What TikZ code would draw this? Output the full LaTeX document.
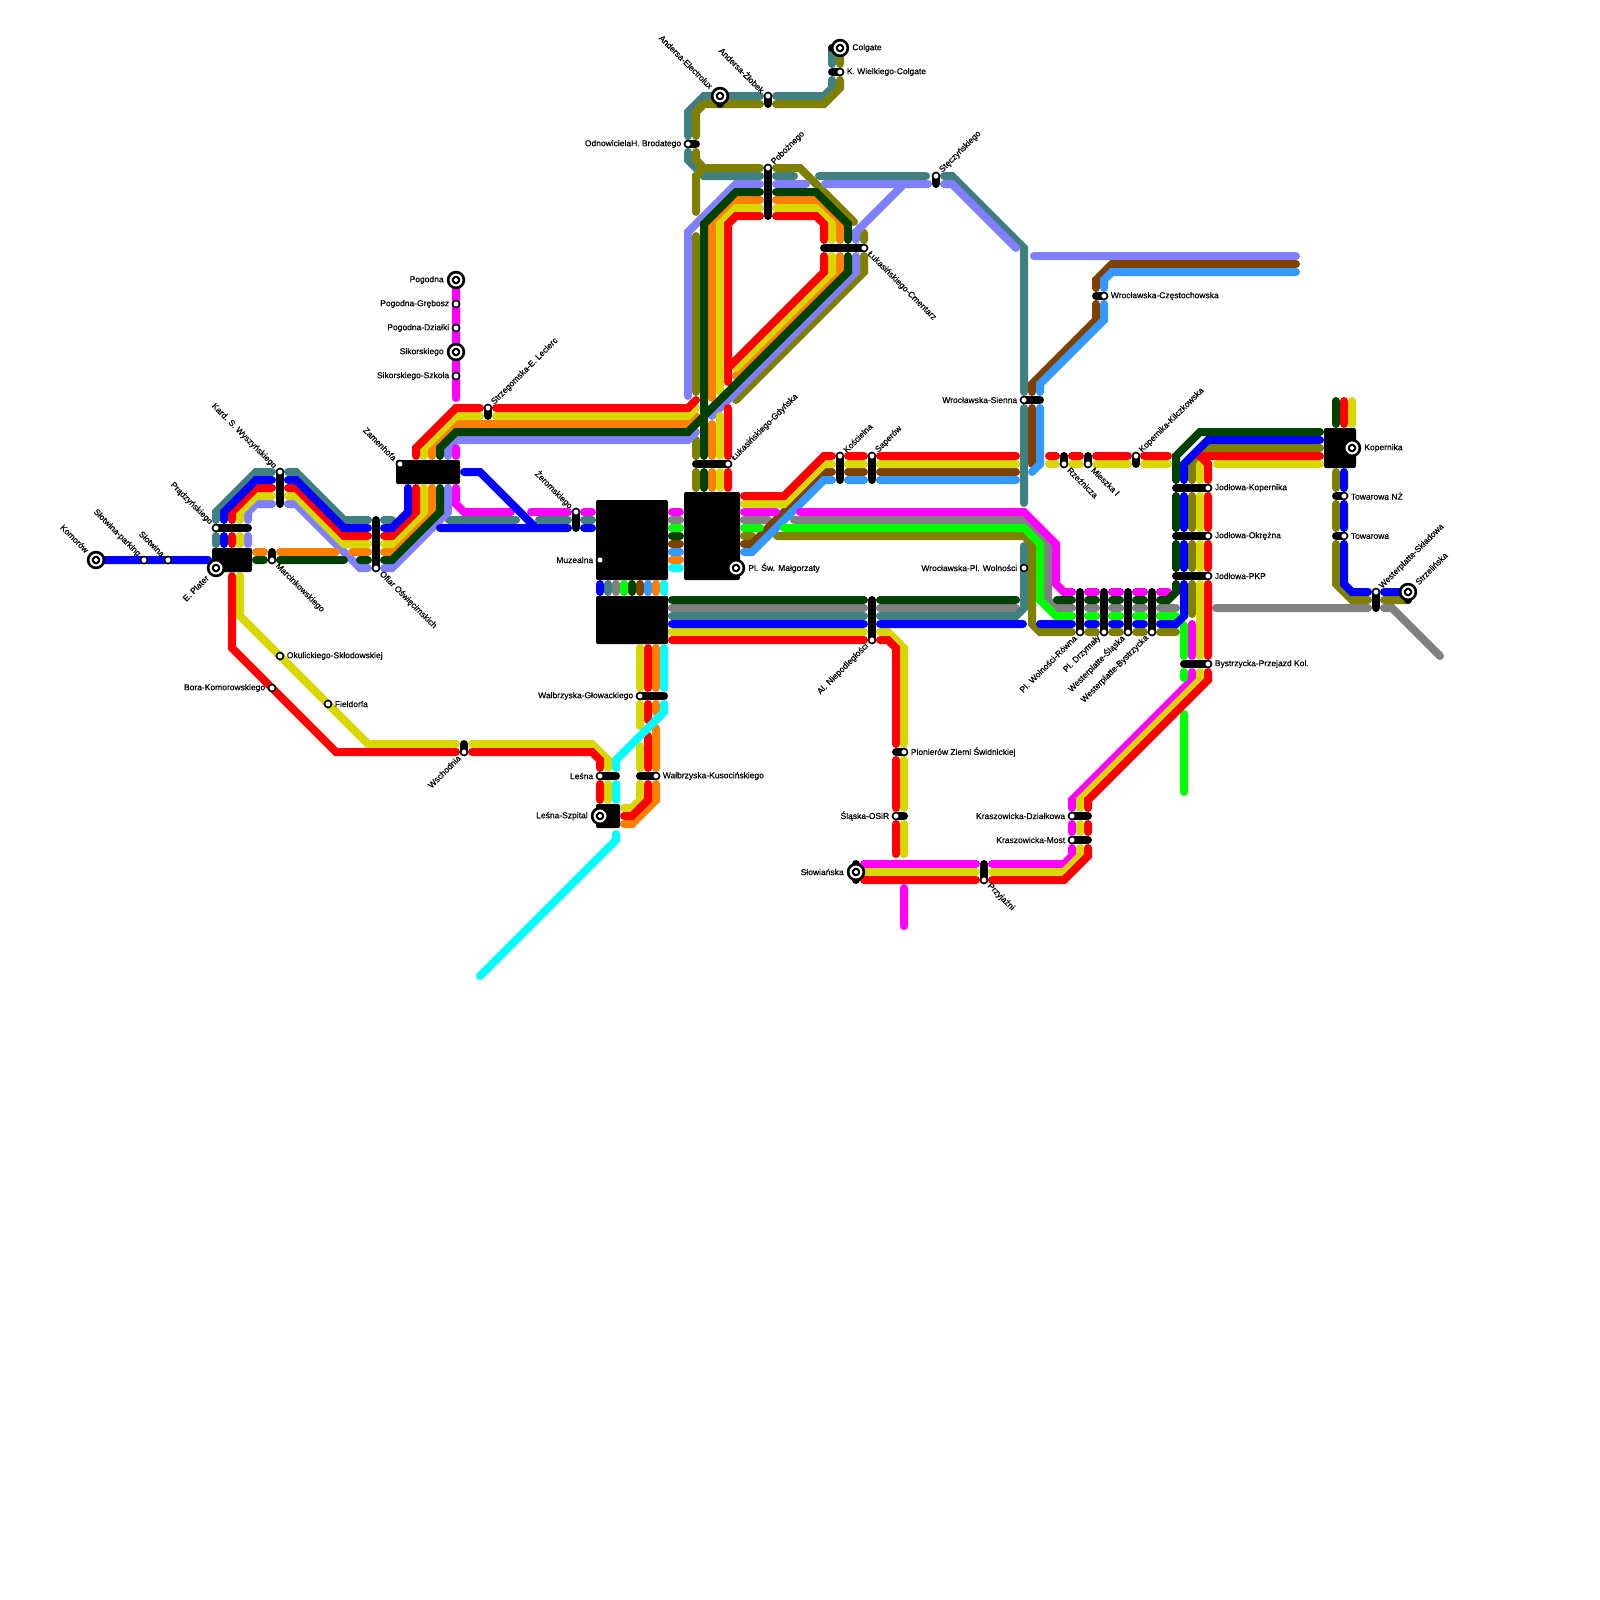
\documentclass[tikz,border=0pt]{standalone}
\usepackage{fontspec}
\newfontfamily\stnfont[FakeBold=0.5]{Liberation Sans}
\def\px{0.02cm}
\definecolor{redcol}{HTML}{FF0000}
\definecolor{bluecol}{HTML}{0000FF}
\definecolor{yelcol}{HTML}{D8D800}
\definecolor{orcol}{HTML}{FF8000}
\definecolor{dgcol}{HTML}{004000}
\definecolor{pwcol}{HTML}{8080FF}
\definecolor{tealcol}{HTML}{408080}
\definecolor{magcol}{HTML}{FF00FF}
\definecolor{graycol}{HTML}{808080}
\definecolor{grcol}{HTML}{00FF00}
\definecolor{brcol}{HTML}{804000}
\definecolor{lbcol}{HTML}{3399FF}
\definecolor{olcol}{HTML}{808000}
\definecolor{cyancol}{HTML}{00FFFF}
\tikzset{
  ln/.style={line width=8*\px, line cap=round},
  stnbar/.style={line width=8*\px, line cap=round, black},
  hub/.style={fill=black, rounded corners=2*\px, inner sep=0},
  stn/.style={circle, fill=white, draw=black, line width=1.6*\px,
              minimum size=7*\px, inner sep=0},
  stn big/.style={circle, fill=white, draw=black, line width=2.6*\px,
                  minimum size=15.8*\px, inner sep=0,
                  path picture={\fill[black] (path picture bounding box.center) circle (4.3);
                                \fill[white] (path picture bounding box.center) circle (2);}},
  tag/.style={font=\stnfont\fontsize{4.83}{6}\selectfont, inner sep=0, inner xsep=6.5*\px},
  tag big/.style={tag, inner xsep=12*\px},
  tag l/.style={anchor=east},
  tag r/.style={anchor=west},
  tag nw/.style={anchor=east, rotate=-45},
  tag ne/.style={anchor=west, rotate=45},
  tag se/.style={anchor=west, rotate=-45},
  tag sw/.style={anchor=east, rotate=45},
}

\begin{document}
\begin{tikzpicture}[x=\px, y=-\px]
  % 1 unit = 1 px of the 1600 x 1600 map, lines sit on an 8 px grid
  \useasboundingbox (0,0) rectangle (1600,1600);

  % ---- gray ----
  \draw[ln, graycol] (744,520) -- (768,520) (794,520) -- (1024,520) -- (1048,544) -- (1048,600) -- (1056,608) -- (1072,608)
    (1088,608) -- (1096,608) (1112,608) -- (1120,608) (1136,608) -- (1144,608) (1160,608) -- (1176,608)
    (672,520) -- (680,520) (616,584) -- (616,592)
    (672,608) -- (864,608) (880,608) -- (1016,608)
    (1216,608) -- (1368,608) (1384,608) -- (1392,608) -- (1440,656);

  % ---- teal ----
  \draw[ln, tealcol] (216,544) -- (216,536) (216,520) -- (216,512) -- (256,472) -- (272,472)
    (288,472) -- (296,472) -- (344,520) -- (368,520) (384,520) -- (392,520)
    (449,520) -- (516,520) (539,520) -- (568,520) (584,520) -- (592,520) (608,584) -- (608,592)
    (672,616) -- (864,616) (880,616) -- (1016,616) -- (1024,608) -- (1024,546)
    (832,48) -- (832,64) (832,80) -- (832,88) -- (824,96) -- (776,96) (760,96) -- (704,96) -- (688,112) -- (688,136)
    (688,152) -- (688,160) -- (704,176) -- (760,176) (776,176) -- (794,176) (819,176) -- (926,176)
    (944,176) -- (952,176) -- (1024,248) -- (1024,392) (1024,408) -- (1024,503);

  % ---- olive ----
  \draw[ln, olcol] (840,52) -- (840,64) (840,80) -- (840,88) -- (824,104) -- (776,104) (760,104) -- (704,104) -- (696,112) -- (696,136)
    (696,152) -- (696,160) -- (704,168) -- (760,168) (776,168) -- (800,168) -- (854,222) (864,233) -- (864,240)
    (864,256) -- (864,272) -- (736,400)
    (704,168) -- (696,176) -- (696,212) (696,236) -- (696,392) (696,440) -- (696,456) (696,472) -- (696,488)
    (744,536) -- (752,536) (777,536) -- (1024,536) -- (1032,544) -- (1032,624) -- (1040,632) -- (1072,632)
    (1088,632) -- (1096,632) (1112,632) -- (1120,632) (1136,632) -- (1144,632) (1160,632) -- (1176,632)
    (1320,448) -- (1208,448) -- (1192,464) -- (1192,480) (1192,496) -- (1192,528) (1192,544) -- (1192,568) (1192,584) -- (1192,614)
    (1336,472) -- (1336,488) (1336,504) -- (1336,528) (1336,544) -- (1336,584) -- (1352,600) -- (1368,600) (1384,600) -- (1408,600);

  % ---- periwinkle ----
  \draw[ln, pwcol] (248,544) -- (248,536) (248,520) -- (248,512) -- (256,504) -- (272,504)
    (288,504) -- (296,504) -- (360,568) -- (368,568) (384,568) -- (392,568) -- (448,512) -- (448,488)
    (448,456) -- (448,448) -- (456,440) -- (688,440) -- (696,432)
    (688,396) -- (688,232) -- (736,184) -- (760,184) (776,184) -- (806,184) (825,184) -- (928,184)
    (944,184) -- (952,184) -- (1016,248)
    (904,184) -- (856,232) -- (856,240) (856,256) -- (856,272) -- (712,416)
    (1034,256) -- (1296,256);

  % ---- brown ----
  \draw[ln, brcol] (672,544) -- (680,544) (640,584) -- (640,592)
    (744,544) -- (752,544) -- (824,472) -- (832,472) (848,472) -- (864,472) (880,472) -- (1016,472)
    (1296,264) -- (1112,264) -- (1096,280) -- (1096,288) (1096,304) -- (1096,320) -- (1032,384) -- (1032,392) (1032,408) -- (1032,464);

  % ---- light blue ----
  \draw[ln, lbcol] (672,552) -- (680,552) (648,584) -- (648,592)
    (744,552) -- (752,552) -- (824,480) -- (832,480) (848,480) -- (864,480) (880,480) -- (1016,480)
    (1296,272) -- (1112,272) -- (1104,280) -- (1104,288) (1104,304) -- (1104,320) -- (1040,384) -- (1040,392)
    (1040,408) -- (1040,464) -- (1032,472);

  % ---- magenta ----
  \draw[ln, magcol] (456,280) -- (456,398) (456,448) -- (456,456)
    (456,488) -- (456,504) -- (464,512) -- (511,512) (531,512) -- (568,512) (584,512) -- (592,512)
    (672,512) -- (680,512) (744,512) -- (776,512) (800,512) -- (1024,512) -- (1056,544) -- (1056,584) -- (1064,592) -- (1072,592)
    (1088,592) -- (1096,592) (1112,592) -- (1120,592) (1136,592) -- (1144,592) (1160,592) -- (1168,592)
    (1192,624) -- (1192,656) (1192,672) -- (1192,680) -- (1072,800) -- (1072,808) (1072,824) -- (1072,832)
    (1072,848) -- (1072,856) -- (1064,864) -- (992,864) (976,864) -- (864,864)
    (904,888) -- (904,926);

  % ---- green ----
  \draw[ln, grcol] (672,528) -- (680,528) (624,584) -- (624,592)
    (744,528) -- (760,528) (784,528) -- (1024,528) -- (1040,544) -- (1040,600) -- (1056,616) -- (1072,616)
    (1088,616) -- (1096,616) (1112,616) -- (1120,616) (1136,616) -- (1144,616) (1160,616) -- (1176,616)
    (1184,625) -- (1184,656) (1184,672) -- (1184,678) (1184,714) -- (1184,792);

  % ---- orange ----
  \draw[ln, orcol] (256,552) -- (264,552) (280,552) -- (336,552) (352,552) -- (368,552)
    (384,552) -- (392,552) -- (432,512) -- (432,488) (432,456) -- (432,448) -- (456,424) -- (688,424) -- (696,416)
    (712,398) -- (712,224) -- (736,200) -- (760,200) (776,200) -- (816,200) -- (840,224) -- (840,240)
    (840,256) -- (840,272) -- (736,376)
    (712,424) -- (712,456) (712,472) -- (712,488)
    (672,560) -- (680,560) (656,584) -- (656,592)
    (656,648) -- (656,688) (656,704) -- (656,712) (656,728) -- (656,768)
    (656,784) -- (656,800) -- (632,824) -- (624,824);

  % ---- yellow ----
  \draw[ln, yelcol] (240,576) -- (240,616) -- (368,744) -- (456,744) (472,744) -- (592,744) -- (608,760) -- (608,768)
    (608,784) -- (608,800)
    (240,544) -- (240,536) (240,520) -- (240,512) -- (256,496) -- (272,496)
    (288,496) -- (296,496) -- (344,544) -- (368,544) (384,544) -- (392,544) -- (424,512) -- (424,488)
    (424,456) -- (424,448) -- (456,416) -- (480,416) (496,416) -- (688,416) -- (696,408)
    (720,392) -- (720,224) -- (736,208) -- (760,208) (776,208) -- (816,208) -- (832,224) -- (832,240)
    (832,256) -- (832,272) -- (736,368)
    (720,416) -- (720,456) (720,472) -- (720,488)
    (744,504) -- (784,504) -- (824,464) -- (832,464) (848,464) -- (864,464) (880,464) -- (1016,464)
    (1049,464) -- (1056,464) (1072,464) -- (1080,464) (1096,464) -- (1128,464) (1144,464) -- (1168,464)
    (1320,464) -- (1217,464) (1200,464) -- (1200,480) (1200,496) -- (1200,528) (1200,544) -- (1200,568) (1200,584) -- (1200,656)
    (1200,672) -- (1200,680) -- (1080,800) -- (1080,808) (1080,824) -- (1080,832)
    (1080,848) -- (1080,856) -- (1064,872) -- (992,872) (976,872) -- (864,872)
    (1352,401) -- (1352,424)
    (672,632) -- (864,632) (880,632) -- (888,632) -- (904,648) -- (904,744) (904,760) -- (904,808) (904,824) -- (904,854)
    (640,648) -- (640,688) (640,704) -- (640,726) (640,746) -- (640,768)
    (640,784) -- (640,800) -- (632,808) -- (624,808);

  % ---- red ----
  \draw[ln, redcol] (232,576) -- (232,648) -- (336,752) -- (456,752) (472,752) -- (592,752) -- (600,760) -- (600,768)
    (600,784) -- (600,800)
    (232,544) -- (232,536) (232,520) -- (232,512) -- (256,488) -- (272,488)
    (288,488) -- (296,488) -- (344,536) -- (368,536) (384,536) -- (392,536) -- (416,512) -- (416,488)
    (416,456) -- (416,448) -- (456,408) -- (480,408) (496,408) -- (688,408) -- (696,400)
    (728,382) -- (728,224) -- (736,216) -- (760,216) (776,216) -- (816,216) -- (824,224) -- (824,240)
    (824,256) -- (824,272) -- (728,368)
    (728,408) -- (728,456) (728,472) -- (728,488)
    (744,496) -- (784,496) -- (824,456) -- (832,456) (848,456) -- (864,456) (880,456) -- (1016,456)
    (1049,456) -- (1056,456) (1072,456) -- (1080,456) (1096,456) -- (1128,456) (1144,456) -- (1168,456)
    (1320,456) -- (1200,456) -- (1208,464) -- (1208,480) (1208,496) -- (1208,528) (1208,544) -- (1208,568) (1208,584) -- (1208,656)
    (1208,672) -- (1208,680) -- (1088,800) -- (1088,808) (1088,824) -- (1088,832)
    (1088,848) -- (1088,856) -- (1064,880) -- (992,880) (976,880) -- (864,880)
    (1344,401) -- (1344,424)
    (672,640) -- (864,640) (880,640) -- (888,640) -- (896,648) -- (896,744) (896,760) -- (896,808) (896,824) -- (896,854)
    (648,648) -- (648,688) (648,704) -- (648,720) (648,736) -- (648,768)
    (648,784) -- (648,800) -- (632,816) -- (624,816);

  % ---- blue ----
  \draw[ln, bluecol] (96,560) -- (208,560)
    (224,544) -- (224,536) (224,520) -- (224,512) -- (256,480) -- (272,480)
    (288,480) -- (296,480) -- (344,528) -- (368,528) (384,528) -- (392,528) -- (408,512) -- (408,488)
    (464,472) -- (480,472) -- (536,528)
    (440,528) -- (568,528) (584,528) -- (592,528) (600,584) -- (600,592)
    (672,624) -- (864,624) (880,624) -- (1023,624) (1040,624) -- (1072,624)
    (1088,624) -- (1096,624) (1112,624) -- (1120,624) (1136,624) -- (1144,624) (1160,624) -- (1176,624) -- (1184,616) -- (1184,584)
    (1184,568) -- (1184,544) (1184,528) -- (1184,496) (1184,480) -- (1184,464) -- (1208,440) -- (1320,440)
    (1344,472) -- (1344,488) (1344,504) -- (1344,528) (1344,544) -- (1344,584) -- (1352,592) -- (1368,592) (1384,592) -- (1408,592);

  % ---- dark green ----
  \draw[ln, dgcol] (256,560) -- (264,560) (280,560) -- (344,560) (360,560) -- (368,560)
    (384,560) -- (392,560) -- (440,512) -- (440,488) (440,456) -- (440,448) -- (456,432) -- (688,432) -- (704,416)
    (672,536) -- (680,536) (632,584) -- (632,592)
    (704,456) -- (704,224) -- (736,192) -- (760,192) (776,192) -- (816,192) -- (848,224) -- (848,240)
    (848,256) -- (848,272) -- (704,416) (704,472) -- (704,488)
    (672,600) -- (864,600) (880,600) -- (1016,600)
    (1057,600) -- (1072,600) (1088,600) -- (1096,600) (1112,600) -- (1120,600) (1136,600) -- (1144,600)
    (1160,600) -- (1168,600) -- (1176,592) -- (1176,584) (1176,568) -- (1176,544) (1176,528) -- (1176,496)
    (1176,480) -- (1176,456) -- (1200,432) -- (1320,432)
    (1336,401) -- (1336,424);

  % ---- cyan ----
  \draw[ln, cyancol] (672,568) -- (680,568) (664,584) -- (664,592)
    (664,648) -- (664,688) (664,704) -- (664,712) -- (616,760) -- (616,768) (616,784) -- (616,800)
    (616,834) -- (616,840) -- (480,976);

  % ---- interchange blocks ----
  \node[hub, minimum width=40*\px, minimum height=24*\px] (platerhub) at (232,560) {};
  \node[hub, minimum width=64*\px, minimum height=24*\px] (zamenhofhub) at (428,472) {};
  \node[hub, minimum width=72*\px, minimum height=80*\px] (muzealnahub) at (632,540) {};
  \node[hub, minimum width=72*\px, minimum height=48*\px] (lowerhub) at (632,620) {};
  \node[hub, minimum width=56*\px, minimum height=88*\px] (malgohub) at (712,536) {};
  \node[hub, minimum width=24*\px, minimum height=24*\px] (szpitalhub) at (608,816) {};
  \node[hub, minimum width=32*\px, minimum height=40*\px] (kopernikhub) at (1340,448) {};

  % ---- stops, labels to the left ----
  \foreach \nm/\sx/\sy/\bx/\by/\txt in {
    grebosz/456/304/0/0/Pogodna-Grębosz, dzialki/456/328/0/0/Pogodna-Działki,
    szkola/456/376/0/0/Sikorskiego-Szkoła, bora/272/688/0/0/Bora-Komorowskiego,
    muzealna/600/560/0/0/Muzealna, glowackiego/640/696/24/0/Wałbrzyska-Głowackiego,
    lesna/600/776/16/0/Leśna, sienna/1024/400/16/0/Wrocławska-Sienna,
    wolnosci/1024/568/0/0/Wrocławska-Pl. Wolności, brodatego/688/144/8/0/OdnowicielaH. Brodatego,
    osir/896/816/8/0/Śląska-OSiR, dzialkowa/1072/816/16/0/Kraszowicka-Działkowa,
    most/1072/840/16/0/Kraszowicka-Most} {
    \draw[stnbar] (\sx,\sy) -- ++(\bx,\by);
    \node[stn] (\nm) at (\sx,\sy) {};
    \node[tag, tag l] (\nm txt) at (\nm) {\txt};
  }
  % ---- stops, labels to the right ----
  \foreach \nm/\sx/\sy/\bx/\by/\txt in {
    okulickiego/280/656/0/0/Okulickiego-Skłodowskiej, fieldorfa/328/704/0/0/Fieldorfa,
    kusocinskiego/656/776/-16/0/Wałbrzyska-Kusocińskiego, pionierow/904/752/-8/0/Pionierów Ziemi Świdnickiej,
    wielkiego/840/72/-8/0/K. Wielkiego-Colgate, czestochowska/1104/296/-8/0/Wrocławska-Częstochowska,
    jodlowak/1208/488/-32/0/Jodłowa-Kopernika, okrezna/1208/536/-32/0/Jodłowa-Okrężna,
    pkp/1208/576/-32/0/Jodłowa-PKP, przejazd/1208/664/-24/0/Bystrzycka-Przejazd Kol.,
    towarowanz/1344/496/-8/0/Towarowa NŻ, towarowa/1344/536/-8/0/Towarowa} {
    \draw[stnbar] (\sx,\sy) -- ++(\bx,\by);
    \node[stn] (\nm) at (\sx,\sy) {};
    \node[tag, tag r] (\nm txt) at (\nm) {\txt};
  }
  % ---- stops, labels up-left ----
  \foreach \nm/\sx/\sy/\bx/\by/\txt in {
    parking/144/560/0/0/Słotwina-parking, slotwina/168/560/0/0/Słotwina,
    pradzynskiego/216/528/32/0/Prądzyńskiego, wyszynskiego/280/472/0/32/Kard. S. Wyszyńskiego,
    zamenhofa/400/464/0/0/Zamenhofa, zeromskiego/576/512/0/16/Żeromskiego,
    zlobek/768/96/0/8/Andersa-Żłobek} {
    \draw[stnbar] (\sx,\sy) -- ++(\bx,\by);
    \node[stn] (\nm) at (\sx,\sy) {};
    \node[tag, tag nw] (\nm txt) at (\nm) {\txt};
  }
  % ---- stops, labels up-right ----
  \foreach \nm/\sx/\sy/\bx/\by/\txt in {
    leclerc/488/408/0/8/Strzegomska-E. Leclerc, gdynska/728/464/-32/0/Łukasińskiego-Gdyńska,
    koscielna/840/456/0/24/Kościelna, saperow/872/456/0/24/Saperów,
    poboznego/768/168/0/48/Pobożnego, steczynskiego/936/176/0/8/Stęczyńskiego,
    kilczkowska/1136/456/0/8/Kopernika-Kilczkowska, skladowa/1376/592/0/16/Westerplatte-Składowa} {
    \draw[stnbar] (\sx,\sy) -- ++(\bx,\by);
    \node[stn] (\nm) at (\sx,\sy) {};
    \node[tag, tag ne] (\nm txt) at (\nm) {\txt};
  }
  % ---- stops, labels down-right ----
  \foreach \nm/\sx/\sy/\bx/\by/\txt in {
    marcinkowskiego/272/560/0/-8/Marcinkowskiego, ofiar/376/568/0/-48/Ofiar Oświęcimskich,
    cmentarz/864/248/-40/0/Łukasińskiego-Cmentarz, rzeznicza/1064/464/0/-8/Rzeźnicza,
    mieszka/1088/464/0/-8/Mieszka I, przyjazni/984/880/0/-16/Przyjaźni} {
    \draw[stnbar] (\sx,\sy) -- ++(\bx,\by);
    \node[stn] (\nm) at (\sx,\sy) {};
    \node[tag, tag se] (\nm txt) at (\nm) {\txt};
  }
  % ---- stops, labels down-left ----
  \foreach \nm/\sx/\sy/\bx/\by/\txt in {
    wschodnia/464/752/0/-8/Wschodnia, niepodleglosci/872/640/0/-40/Al. Niepodległości,
    rowna/1080/632/0/-40/Pl. Wolności-Równa, drzymaly/1104/632/0/-40/Pl. Drzymały,
    slaska/1128/632/0/-40/Westerplatte-Śląska, bystrzycka/1152/632/0/-40/Westerplatte-Bystrzycka} {
    \draw[stnbar] (\sx,\sy) -- ++(\bx,\by);
    \node[stn] (\nm) at (\sx,\sy) {};
    \node[tag, tag sw] (\nm txt) at (\nm) {\txt};
  }

  % ---- terminal stops (ringed) ----
  \draw[stnbar] (720,96) -- ++(0,8);
  \draw[stnbar] (840,48) -- ++(-8,0);
  \draw[stnbar] (856,864) -- (856,880);
  \draw[stnbar] (1408,592) -- ++(0,8);
  \node[stn big] (komorow) at (96,560) {};
  \node[stn big] (plater) at (216,568) {};
  \node[stn big] (pogodna) at (456,280) {};
  \node[stn big] (sikorskiego) at (456,352) {};
  \node[stn big] (malgorzaty) at (736,568) {};
  \node[stn big] (electrolux) at (720,96) {};
  \node[stn big] (colgate) at (840,48) {};
  \node[stn big] (szpital) at (600,816) {};
  \node[stn big] (slowianska) at (856,872) {};
  \node[stn big] (kopernika) at (1352,448) {};
  \node[stn big] (strzelinska) at (1408,592) {};
  \node[tag big, tag nw] (komorow txt) at (komorow) {Komorów};
  \node[tag big, tag sw] (plater txt) at (plater) {E. Plater};
  \node[tag big, tag l] (pogodna txt) at (pogodna) {Pogodna};
  \node[tag big, tag l] (sikorskiego txt) at (sikorskiego) {Sikorskiego};
  \node[tag big, tag r] (malgorzaty txt) at (malgorzaty) {Pl. Św. Małgorzaty};
  \node[tag big, tag nw] (electrolux txt) at (electrolux) {Andersa-Electrolux};
  \node[tag big, tag r] (colgate txt) at (colgate) {Colgate};
  \node[tag big, tag l] (szpital txt) at (szpital) {Leśna-Szpital};
  \node[tag big, tag l] (slowianska txt) at (slowianska) {Słowiańska};
  \node[tag big, tag r] (kopernika txt) at (kopernika) {Kopernika};
  \node[tag big, tag ne] (strzelinska txt) at (strzelinska) {Strzelińska};
\end{tikzpicture}
\end{document}
